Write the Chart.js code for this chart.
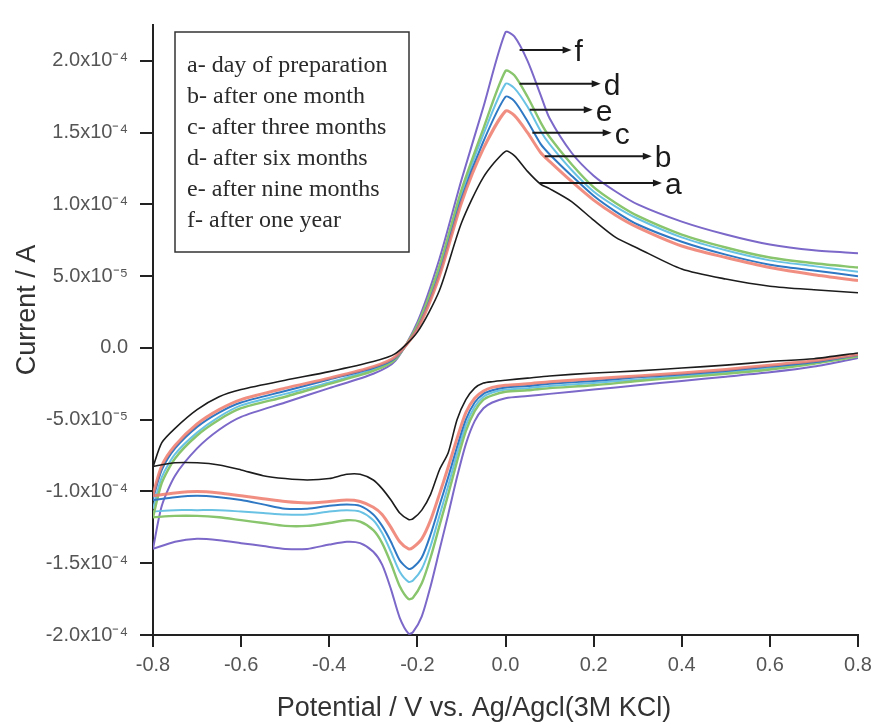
<!DOCTYPE html>
<html>
<head>
<meta charset="utf-8">
<title>CV stability</title>
<script src="https://cdn.jsdelivr.net/npm/chart.js@4.4.1/dist/chart.umd.min.js"></script>
<style>
  html, body { margin: 0; padding: 0; background: #fff; }
  #wrap { width: 878px; height: 724px; }
</style>
</head>
<body>
<div id="wrap"><canvas id="cvChart"></canvas></div>
<script>
// Potential grid (V vs Ag/AgCl) for the forward and the reverse sweep
const forwardPotential = [-0.8, -0.78, -0.75, -0.7, -0.65, -0.6, -0.5, -0.4, -0.3, -0.25,
  -0.2, -0.15, -0.1, -0.05, 0, 0.02, 0.05, 0.08, 0.1, 0.15, 0.2, 0.25, 0.3, 0.4, 0.5, 0.6, 0.7, 0.8];
const reversePotential = [0.8, 0.7, 0.6, 0.5, 0.4, 0.3, 0.2, 0.1, 0.05, 0, -0.03, -0.05, -0.07, -0.09,
  -0.11, -0.13, -0.15, -0.17, -0.19, -0.21, -0.22, -0.24, -0.26, -0.28, -0.3, -0.33, -0.36, -0.4,
  -0.45, -0.5, -0.55, -0.6, -0.65, -0.7, -0.75, -0.8];

// Currents in units of 1e-5 A
const forwardA = [-8.3, -6.6, -5.6, -4.3, -3.4, -2.9, -2.25, -1.65, -0.95, -0.4, 1.1, 4.0, 8.7, 11.9, 13.7, 13.4, 12.3, 11.4, 11.1, 10.2, 8.9, 7.7, 6.95, 5.5, 4.8, 4.3, 4.05, 3.85];
const forwardB = [-10.2, -8.2, -6.8, -5.3, -4.3, -3.6, -2.8, -2.1, -1.3, -0.6, 1.3, 5.0, 10.1, 13.9, 16.5, 16.2, 15.0, 13.6, 13.0, 11.6, 10.3, 9.25, 8.4, 7.1, 6.3, 5.6, 5.1, 4.7];
const forwardC = [-10.5, -8.5, -7.0, -5.5, -4.5, -3.8, -3.0, -2.2, -1.4, -0.7, 1.4, 5.2, 10.4, 14.4, 17.5, 17.2, 15.8, 14.2, 13.5, 12.0, 10.6, 9.5, 8.6, 7.4, 6.5, 5.8, 5.4, 5.0];
const forwardD = [-11.8, -9.4, -7.7, -6.1, -5.0, -4.2, -3.4, -2.5, -1.6, -0.8, 1.6, 5.7, 11.0, 15.3, 19.3, 19.0, 17.5, 15.7, 14.7, 12.8, 11.2, 10.1, 9.2, 7.9, 7.0, 6.3, 5.9, 5.6];
const forwardE = [-11.2, -9.0, -7.4, -5.9, -4.8, -4.0, -3.2, -2.4, -1.5, -0.75, 1.5, 5.5, 10.7, 14.9, 18.4, 18.1, 16.8, 15.1, 14.2, 12.4, 10.9, 9.85, 9.0, 7.7, 6.8, 6.1, 5.7, 5.3];
const forwardF = [-14.0, -11.0, -8.9, -7.0, -5.7, -4.8, -3.8, -2.8, -1.8, -0.9, 1.8, 6.2, 11.7, 16.8, 22.0, 21.7, 20.0, 17.6, 16.0, 13.6, 12.0, 10.9, 10.0, 8.8, 7.9, 7.2, 6.8, 6.6];

const reverseA = [-0.35, -0.75, -0.95, -1.2, -1.4, -1.6, -1.75, -1.95, -2.1, -2.25, -2.35, -2.45, -2.8, -3.6, -5.0, -7.3, -8.5, -10.2, -11.3, -11.9, -11.95, -11.5, -10.6, -9.8, -9.2, -8.8, -8.8, -9.1, -9.2, -9.1, -8.9, -8.5, -8.15, -8.0, -8.0, -8.25];
const reverseB = [-0.45, -0.9, -1.2, -1.5, -1.75, -1.95, -2.15, -2.35, -2.5, -2.6, -2.75, -3.0, -3.5, -4.5, -6.3, -8.3, -10.2, -12.0, -13.3, -13.9, -14.0, -13.5, -12.5, -11.6, -11.1, -10.7, -10.6, -10.7, -10.8, -10.7, -10.5, -10.3, -10.1, -10.0, -10.1, -10.3];
const reverseC = [-0.5, -1.0, -1.3, -1.6, -1.85, -2.05, -2.3, -2.5, -2.65, -2.75, -2.95, -3.2, -3.8, -5.0, -6.9, -9.0, -11.0, -13.0, -14.6, -15.3, -15.4, -14.8, -13.5, -12.4, -11.6, -11.0, -10.9, -11.0, -11.2, -11.2, -10.9, -10.6, -10.4, -10.3, -10.4, -10.6];
const reverseD = [-0.6, -1.1, -1.5, -1.8, -2.05, -2.3, -2.6, -2.8, -2.95, -3.05, -3.3, -3.6, -4.4, -5.8, -7.9, -10.2, -12.4, -14.6, -16.4, -17.4, -17.5, -16.6, -15.0, -13.6, -12.7, -12.1, -12.0, -12.2, -12.4, -12.4, -12.2, -12.0, -11.8, -11.7, -11.7, -11.8];
const reverseE = [-0.55, -1.05, -1.4, -1.7, -1.95, -2.2, -2.45, -2.65, -2.8, -2.9, -3.1, -3.4, -4.1, -5.4, -7.4, -9.6, -11.7, -13.8, -15.4, -16.2, -16.3, -15.6, -14.2, -12.9, -12.0, -11.4, -11.3, -11.4, -11.6, -11.6, -11.5, -11.4, -11.3, -11.3, -11.3, -11.4];
const reverseF = [-0.7, -1.3, -1.7, -2.0, -2.3, -2.6, -2.9, -3.2, -3.35, -3.5, -3.8, -4.2, -5.1, -6.7, -9.0, -11.6, -14.1, -16.6, -18.7, -19.8, -19.9, -18.8, -16.8, -15.1, -14.2, -13.6, -13.5, -13.7, -14.0, -14.0, -13.8, -13.6, -13.4, -13.3, -13.5, -14.0];

const curveKeys = ["a", "b", "c", "d", "e", "f"];
const curveNames = ["day of preparation", "after one month", "after three months",
  "after six months", "after nine months", "after one year"];

// Axis ticks and titles
const xTickValues = [-0.8, -0.6, -0.4, -0.2, 0.0, 0.2, 0.4, 0.6, 0.8];
const xTickLabels = ["-0.8", "-0.6", "-0.4", "-0.2", "0.0", "0.2", "0.4", "0.6", "0.8"];
const yTickValues = [-20, -15, -10, -5, 0, 5, 10, 15, 20];
const yTickLabels = ["-2.0x10\u207B\u2074", "-1.5x10\u207B\u2074", "-1.0x10\u207B\u2074", "-5.0x10\u207B\u2075",
  "0.0", "5.0x10\u207B\u2075", "1.0x10\u207B\u2074", "1.5x10\u207B\u2074", "2.0x10\u207B\u2074"];
const xTitle = "Potential / V vs. Ag/Agcl(3M KCl)";
const yTitle = "Current / A";

// Pointer labels next to the anodic peak
const pointerLetters = ["f", "d", "e", "c", "b", "a"];
const pointerFromV = [0.032, 0.032, 0.055, 0.061, 0.089, 0.077];
const pointerToV = [0.15, 0.216, 0.198, 0.241, 0.332, 0.355];
const pointerLevel = [20.75, 18.4, 16.6, 15.0, 13.35, 11.5];

// Line styles
const curveColors = ["#1c1c1c", "rgba(238,122,108,0.85)", "#2f78c4", "#88c56c", "#69c2e4", "#7b68c8"];
const curveWidths = [1.6, 3, 2, 2.4, 2, 2];

const forwardSets = [forwardA, forwardB, forwardC, forwardD, forwardE, forwardF];
const reverseSets = [reverseA, reverseB, reverseC, reverseD, reverseE, reverseF];

function toPoints(xs, ys) {
  return xs.map((x, i) => ({ x: x, y: ys[i] }));
}

const datasets = [];
curveKeys.forEach((key, i) => {
  const style = {
    showLine: true,
    pointRadius: 0,
    borderColor: curveColors[i],
    borderWidth: curveWidths[i],
    tension: 0.25,
    fill: false
  };
  datasets.push(Object.assign({ label: key + " forward", data: toPoints(forwardPotential, forwardSets[i]) }, style));
  datasets.push(Object.assign({ label: key + " reverse", data: toPoints(reversePotential, reverseSets[i]) }, style));
});

const sansFamily = "'Liberation Sans', Arial, sans-serif";

// Boxed legend, lettered arrows and the axis titles
const annotations = {
  id: "annotations",
  afterDatasetsDraw(chart) {
    const ctx = chart.ctx;
    const xs = chart.scales.x;
    const ys = chart.scales.y;
    ctx.save();

    // legend box
    ctx.strokeStyle = "#333";
    ctx.lineWidth = 1.5;
    ctx.strokeRect(175, 32, 234, 220);
    ctx.fillStyle = "#2a2a2a";
    ctx.font = "24px 'Liberation Serif', 'DejaVu Serif', serif";
    ctx.textBaseline = "alphabetic";
    ctx.textAlign = "left";
    curveKeys.forEach((key, i) => {
      ctx.fillText(key + "- " + curveNames[i], 187, 72 + i * 31);
    });

    // arrows
    ctx.strokeStyle = "#1a1a1a";
    ctx.fillStyle = "#1a1a1a";
    ctx.lineWidth = 2;
    ctx.font = "30px " + sansFamily;
    pointerLetters.forEach((letter, i) => {
      const x1 = xs.getPixelForValue(pointerFromV[i]);
      const x2 = xs.getPixelForValue(pointerToV[i]);
      const y = ys.getPixelForValue(pointerLevel[i]);
      ctx.beginPath();
      ctx.moveTo(x1, y);
      ctx.lineTo(x2 - 6, y);
      ctx.stroke();
      ctx.beginPath();
      ctx.moveTo(x2, y);
      ctx.lineTo(x2 - 9, y - 3.5);
      ctx.lineTo(x2 - 9, y + 3.5);
      ctx.closePath();
      ctx.fill();
      ctx.fillText(letter, x2 + 3, y + 11);
    });

    // axis titles (placed like the original, slightly off-centre)
    ctx.fillStyle = "#333";
    ctx.font = "27px " + sansFamily;
    ctx.textAlign = "center";
    ctx.fillText(xTitle, 474, 716);
    ctx.translate(35, 310);
    ctx.rotate(-Math.PI / 2);
    ctx.fillText(yTitle, 0, 0);
    ctx.restore();
  }
};

const tickFont = { family: sansFamily, size: 20 };

new Chart(document.getElementById("cvChart"), {
  type: "scatter",
  data: { datasets: datasets },
  plugins: [annotations],
  options: {
    responsive: true,
    maintainAspectRatio: false,
    animation: false,
    layout: { padding: { left: 10, right: 20, top: 25, bottom: 8 } },
    plugins: {
      legend: { display: false },
      tooltip: { enabled: false }
    },
    scales: {
      x: {
        type: "linear",
        min: -0.8,
        max: 0.8,
        afterBuildTicks: scale => { scale.ticks = xTickValues.map(v => ({ value: v })); },
        afterFit: scale => { scale.height = 81; },
        ticks: {
          color: "#555",
          font: tickFont,
          padding: 6,
          callback: value => xTickLabels[xTickValues.findIndex(v => Math.abs(v - value) < 1e-9)]
        },
        grid: { drawOnChartArea: false, drawTicks: true, tickLength: 12, color: "#222", lineWidth: 2 },
        border: { display: true, color: "#222", width: 2 }
      },
      y: {
        type: "linear",
        min: -20,
        max: 22.5,
        afterBuildTicks: scale => { scale.ticks = yTickValues.map(v => ({ value: v })); },
        afterFit: scale => { scale.width = 143; },
        ticks: {
          color: "#555",
          font: tickFont,
          padding: 12,
          callback: value => yTickLabels[yTickValues.indexOf(value)]
        },
        grid: { drawOnChartArea: false, drawTicks: true, tickLength: 13, color: "#222", lineWidth: 2 },
        border: { display: true, color: "#222", width: 2 }
      }
    }
  }
});
</script>
</body>
</html>
